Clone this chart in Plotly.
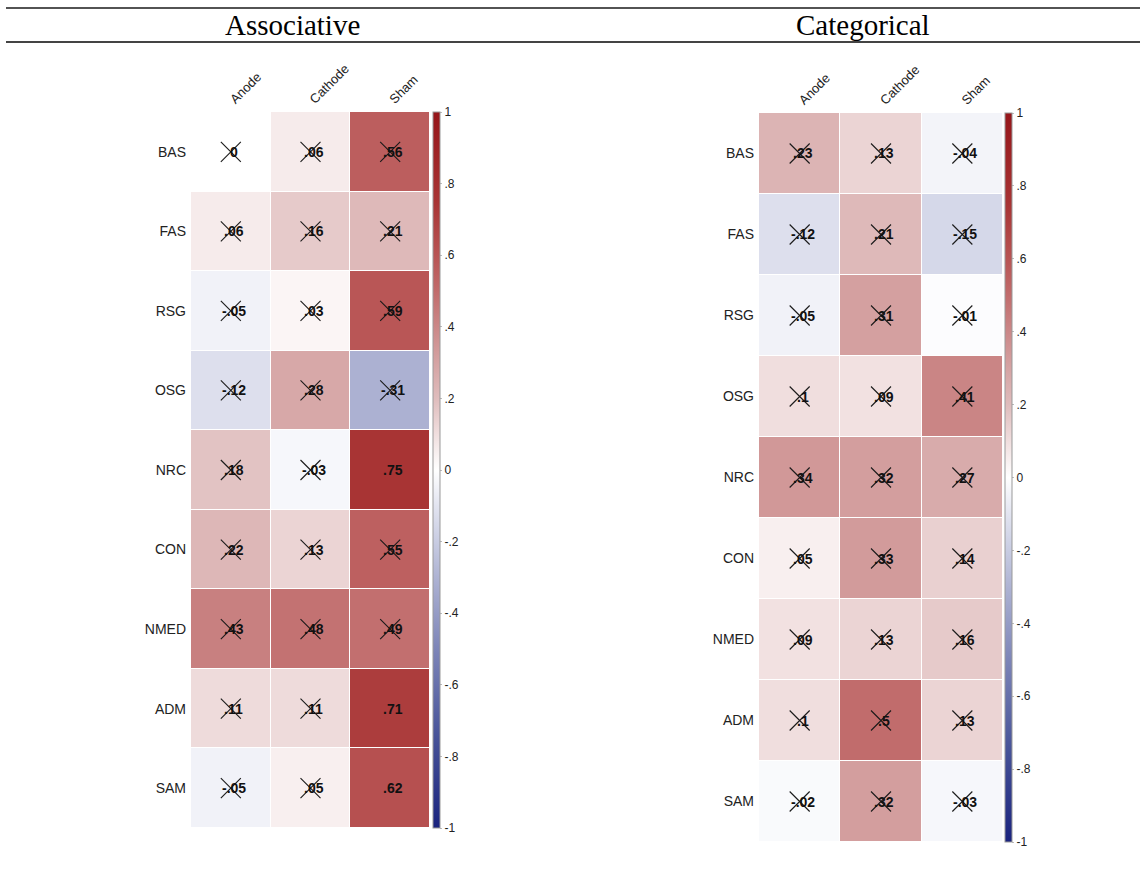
import plotly.graph_objects as go

# Correlation values by tDCS condition (rows are the questionnaire scales)
rows = ["BAS", "FAS", "RSG", "OSG", "NRC", "CON", "NMED", "ADM", "SAM"]
conditions = ["Anode", "Cathode", "Sham"]

assoc_anode = [0.00, 0.06, -0.05, -0.12, 0.18, 0.22, 0.43, 0.11, -0.05]
assoc_cathode = [0.06, 0.16, 0.03, 0.28, -0.03, 0.13, 0.48, 0.11, 0.05]
assoc_sham = [0.56, 0.21, 0.59, -0.31, 0.75, 0.55, 0.49, 0.71, 0.62]

categ_anode = [0.23, -0.12, -0.05, 0.10, 0.34, 0.05, 0.09, 0.10, -0.02]
categ_cathode = [0.13, 0.21, 0.31, 0.09, 0.32, 0.33, 0.13, 0.50, 0.32]
categ_sham = [-0.04, -0.15, -0.01, 0.41, 0.27, 0.14, 0.16, 0.13, -0.03]

# Significance flags (non-significant cells get crossed out)
assoc_sig_anode = [False] * 9
assoc_sig_cathode = [False] * 9
assoc_sig_sham = [False, False, False, False, True, False, False, True, True]
categ_sig_anode = [False] * 9
categ_sig_cathode = [False] * 9
categ_sig_sham = [False] * 9

cbar_ticks = [1, 0.8, 0.6, 0.4, 0.2, 0, -0.2, -0.4, -0.6, -0.8, -1]
cbar_ticktext = ["1", ".8", ".6", ".4", ".2", "0", "-.2", "-.4", "-.6", "-.8", "-1"]

# Diverging blue-white-red scale over [-1, 1]
stops = [
    (-1.0, (26, 35, 126)),
    (-0.75, (70, 82, 152)),
    (-0.5, (125, 133, 184)),
    (-0.3, (174, 179, 211)),
    (-0.2, (200, 204, 226)),
    (-0.1, (226, 228, 240)),
    (0.0, (255, 255, 255)),
    (0.1, (240, 222, 222)),
    (0.2, (223, 188, 188)),
    (0.3, (213, 163, 163)),
    (0.4, (203, 136, 136)),
    (0.5, (193, 108, 108)),
    (0.6, (184, 84, 84)),
    (0.75, (168, 52, 52)),
    (1.0, (150, 22, 26)),
]
colorscale = [[(v + 1) / 2, "rgb(%d,%d,%d)" % c] for v, c in stops]

W, H = 1140, 870


def fmt(v):
    if v == 0:
        return "0"
    s = ("%.2f" % v).rstrip("0")
    return s.replace("0.", ".", 1)


def px_x(p):
    return p / W


def px_y(p):
    return 1 - p / H


fig = go.Figure()

panels = [
    dict(cols=[assoc_anode, assoc_cathode, assoc_sham],
         sig=[assoc_sig_anode, assoc_sig_cathode, assoc_sig_sham],
         xdom=(191, 430), ydom=(112, 828), cbx=433, title="Associative", tx=292),
    dict(cols=[categ_anode, categ_cathode, categ_sham],
         sig=[categ_sig_anode, categ_sig_cathode, categ_sig_sham],
         xdom=(759, 1003), ydom=(113, 842), cbx=1005, title="Categorical", tx=863),
]

layout_axes = {}
for k, p in enumerate(panels, start=1):
    xa = "x" if k == 1 else "x%d" % k
    ya = "y" if k == 1 else "y%d" % k
    z = [[p["cols"][j][i] for j in range(3)] for i in range(len(rows))]
    y0, y1 = p["ydom"]
    fig.add_trace(go.Heatmap(
        z=z, x=[0, 1, 2], y=list(range(len(rows))),
        zmin=-1, zmax=1, colorscale=colorscale,
        xgap=1, ygap=1, xaxis=xa, yaxis=ya, hoverinfo="skip",
        colorbar=dict(
            x=px_x(p["cbx"]), xanchor="left", xref="paper",
            y=px_y(y1), yanchor="bottom", yref="paper",
            len=(y1 - y0) / H, lenmode="fraction",
            xpad=0, ypad=0,
            thickness=7, outlinewidth=1, outlinecolor="#999",
            tickvals=cbar_ticks, ticktext=cbar_ticktext,
            ticks="outside", ticklen=2, tickcolor="#bbb",
            tickfont=dict(family="Liberation Sans, Arial", size=12, color="#222"),
        ),
    ))
    # crosses over non-significant cells
    cx, cy = [], []
    for j in range(3):
        for i in range(len(rows)):
            fig.add_annotation(
                x=j, y=i, xref=xa, yref=ya, text=fmt(p["cols"][j][i]),
                showarrow=False, xanchor="center", yanchor="middle", xshift=3,
                font=dict(family="Liberation Sans, Arial", size=14, color="#111",
                          weight="bold"),
            )
            if not p["sig"][j][i]:
                cx.append(j)
                cy.append(i)
    fig.add_trace(go.Scatter(
        x=cx, y=cy, mode="markers", xaxis=xa, yaxis=ya,
        marker=dict(symbol="x-thin", size=20, line=dict(width=1.1, color="#1a1a1a")),
        hoverinfo="skip", showlegend=False,
    ))
    x0, x1 = p["xdom"]
    layout_axes["xaxis" if k == 1 else "xaxis%d" % k] = dict(
        domain=[px_x(x0), px_x(x1)], anchor=ya, range=[-0.5, 2.5],
        side="top", tickvals=[0, 1, 2], ticktext=conditions, tickangle=-45,
        showgrid=False, zeroline=False, showline=False, ticks="",
        ticklabelstandoff=2,
        tickfont=dict(family="Liberation Sans, Arial", size=13, color="#222"),
        fixedrange=True,
    )
    layout_axes["yaxis" if k == 1 else "yaxis%d" % k] = dict(
        domain=[px_y(y1), px_y(y0)], anchor=xa, range=[len(rows) - 0.5, -0.5],
        tickvals=list(range(len(rows))), ticktext=rows,
        showgrid=False, zeroline=False, showline=False, ticks="",
        ticklabelstandoff=4,
        tickfont=dict(family="Liberation Sans, Arial", size=14, color="#222"),
        fixedrange=True,
    )
    fig.add_annotation(
        x=px_x(p["tx"]), y=px_y(25), xref="paper", yref="paper",
        text=p["title"], showarrow=False, xanchor="center", yanchor="middle",
        font=dict(family="Liberation Serif, Times New Roman", size=29, color="#000"),
    )

# rules above and below the panel titles
fig.add_shape(type="line", xref="paper", yref="paper",
              x0=px_x(6), x1=1, y0=px_y(8), y1=px_y(8),
              line=dict(color="#1a1a1a", width=1.5))
fig.add_shape(type="line", xref="paper", yref="paper",
              x0=px_x(6), x1=1, y0=px_y(42), y1=px_y(42),
              line=dict(color="#444", width=2))

fig.update_layout(
    width=W, height=H, autosize=False,
    margin=dict(l=0, r=0, t=0, b=0),
    paper_bgcolor="white", plot_bgcolor="white",
    showlegend=False,
    **layout_axes,
)

fig.write_html("out.html", config={"displayModeBar": False})
